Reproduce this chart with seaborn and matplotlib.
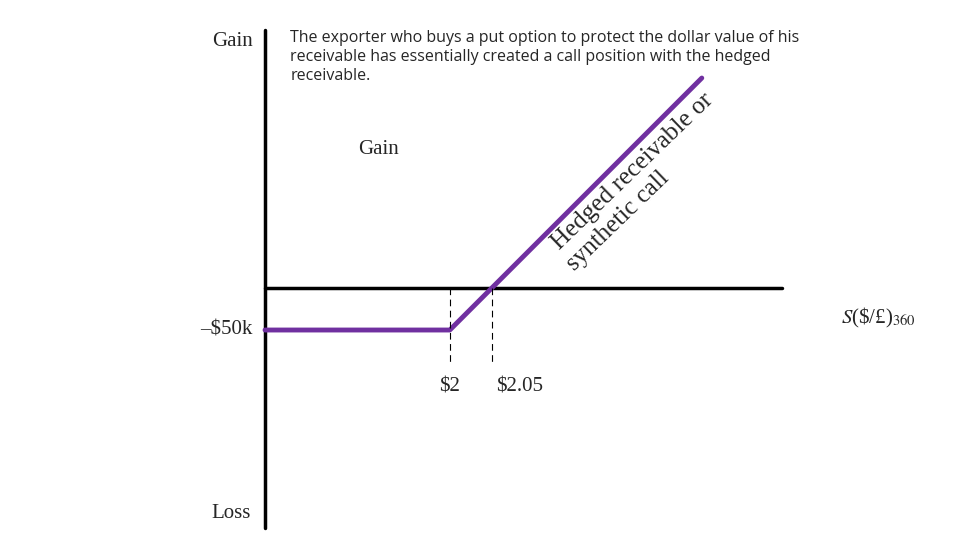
import matplotlib.pyplot as plt
import pandas as pd
import seaborn as sns

# payoff of hedged receivable / synthetic call (profit in $k)
spot = [1.78, 2.0, 2.3]
profit = [-50, -50, 250]
strike = 2.0
breakeven = 2.05
tick_labels = ["$2", "$2.05"]

purple = "#7030A0"
df = pd.DataFrame({"spot": spot, "profit": profit})

sns.set_style("white")
plt.rcParams["mathtext.fontset"] = "stix"
fig = plt.figure(figsize=(9.6, 5.4), dpi=100)
ax = fig.add_axes([0, 0, 1, 1])
ax.set_axis_off()
ax.set_xlim(1.4645, 2.6074)
ax.set_ylim(-300, 342.9)

# axes
ax.plot([1.78, 1.78], [307, -286], color="black", lw=2.5)
ax.plot([1.78, 2.396], [0, 0], color="black", lw=2.5)

sns.lineplot(data=df, x="spot", y="profit", color=purple, lw=3.5, ax=ax)

for s in [strike, breakeven]:
    ax.plot([s, s], [0, -92], color="black", lw=0.8, ls=(0, (6, 4)))

serif = "Liberation Serif"
ax.text(strike, -118, tick_labels[0], fontsize=15, family=serif, ha="center", va="center")
ax.text(breakeven + 0.005, -118, tick_labels[1], fontsize=15, family=serif, ha="left", va="center")
ax.text(1.765, -50, "\u2013$50k", fontsize=15, family=serif, ha="right", va="center")
ax.text(1.765, 293, "Gain", fontsize=15, family=serif, ha="right", va="center")
ax.text(1.74, -268, "Loss", fontsize=15, family=serif, ha="center", va="center")
ax.text(1.915, 165, "Gain", fontsize=15, family=serif, ha="center", va="center")
ax.text(2.51, -36, r"$S$(\$/£)$_{360}$", fontsize=15, family=serif, ha="center", va="center")

ax.text(2.131, 45, "Hedged receivable or", fontsize=18, family=serif, rotation=44,
        rotation_mode="anchor", ha="left", va="baseline")
ax.text(2.149, 20, "synthetic call", fontsize=18, family=serif, rotation=44,
        rotation_mode="anchor", ha="left", va="baseline")

ax.text(1.81, 307, "The exporter who buys a put option to protect the dollar value of his\n"
        "receivable has essentially created a call position with the hedged\n"
        "receivable.", fontsize=11.5, family="Open Sans", ha="left", va="top",
        linespacing=1.25)

fig.savefig("out.png", dpi=100)
